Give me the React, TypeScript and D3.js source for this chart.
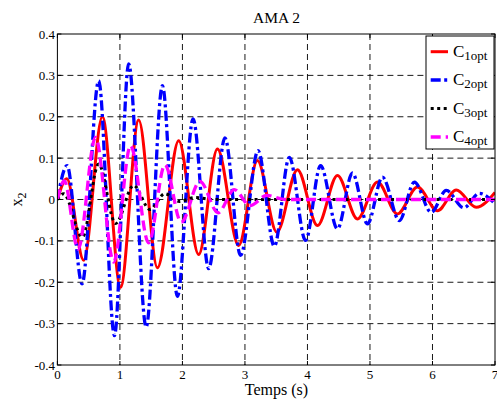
import React from "react";
import * as d3 from "d3";

// ---- data (extrema) ----
const T1 = [0, 0.15, 0.42, 0.72, 1.01, 1.30, 1.60, 1.94, 2.26, 2.56, 2.90, 3.20, 3.51, 3.84, 4.16, 4.48, 4.80, 5.12, 5.44, 5.76, 6.08, 6.38, 6.70, 7.0];
const V1 = [0, 0.05, -0.147, 0.20, -0.212, 0.192, -0.165, 0.142, -0.133, 0.122, -0.111, 0.094, -0.079, 0.072, -0.063, 0.058, -0.047, 0.042, -0.035, 0.030, -0.027, 0.023, -0.019, 0.017];

const T2 = [0, 0.155, 0.395, 0.66, 0.913, 1.14, 1.42, 1.68, 1.92, 2.17, 2.42, 2.68, 2.93, 3.21, 3.47, 3.71, 3.97, 4.21, 4.48, 4.72, 4.96, 5.20, 5.47, 5.71, 5.98, 6.22, 6.50, 6.75, 7.0];
const V2 = [0, 0.082, -0.204, 0.287, -0.329, 0.328, -0.308, 0.275, -0.234, 0.195, -0.167, 0.149, -0.135, 0.118, -0.113, 0.102, -0.099, 0.082, -0.071, 0.064, -0.059, 0.054, -0.051, 0.042, -0.031, 0.022, -0.02, 0.015, -0.01];

const T3 = [0, 0.1, 0.4, 0.66, 0.93, 1.22, 1.48, 1.72, 1.95, 2.2, 2.5, 7.0];
const V3 = [0, 0.014, -0.091, 0.086, -0.058, 0.034, -0.024, 0.014, -0.005, 0.005, 0, 0];

const T4 = [0, 0.11, 0.33, 0.61, 0.90, 1.17, 1.46, 1.72, 1.98, 2.28, 2.57, 2.83, 3.08, 3.35, 3.65, 7.0];
const V4 = [0, 0.045, -0.12, 0.15, -0.151, 0.13, -0.105, 0.084, -0.055, 0.044, -0.032, 0.024, -0.015, 0.01, 0, 0];

const XTICKS = [0, 1, 2, 3, 4, 5, 6, 7];
const YTICKS = [-0.4, -0.3, -0.2, -0.1, 0, 0.1, 0.2, 0.3, 0.4];
const SERIES_NAMES = ["1opt", "2opt", "3opt", "4opt"];

const W = 497;
const H = 403;
const L = 57.4;
const R = 495;
const TOP = 34;
const BOT = 365;
const FONT = "'Liberation Serif', 'Times New Roman', serif";

export default function App() {
  const x = d3.scaleLinear().domain([0, 7]).range([L, R]);
  const y = d3.scaleLinear().domain([-0.4, 0.4]).range([BOT, TOP]);
  const line = d3
    .line<[number, number]>()
    .x((d) => x(d[0]))
    .y((d) => y(d[1]))
    .curve(d3.curveMonotoneX);

  const mk = (T: number[], V: number[]) => T.map((t, i) => [t, V[i]] as [number, number]);
  const styles = [
    { color: "#ff0000", width: 3, dash: "none" },
    { color: "#0000ff", width: 3.3, dash: "10,3.5,3,3.5" },
    { color: "#000000", width: 3, dash: "3,3.5" },
    { color: "#ff00ff", width: 3.3, dash: "10,5" },
  ];
  const data = [mk(T1, V1), mk(T2, V2), mk(T3, V3), mk(T4, V4)];

  const fmt = (v: number) => (Math.abs(v) < 1e-9 ? "0" : String(Math.round(v * 10) / 10));

  const legX = 426;
  const legY = 36;
  const legW = 68;
  const legH = 113;
  const rowY = [51.7, 80, 108.5, 137];

  return (
    <svg width={W} height={H} style={{ position: "absolute", left: 0, top: 0, background: "#fff" }} fontFamily={FONT}>
      <defs>
        <clipPath id="plotclip">
          <rect x={L} y={TOP} width={R - L} height={BOT - TOP} />
        </clipPath>
      </defs>
      <rect x={0} y={0} width={W} height={H} fill="#fff" />
      {/* grid */}
      {XTICKS.slice(1, -1).map((t) => (
        <line key={"gx" + t} x1={x(t)} x2={x(t)} y1={TOP} y2={BOT} stroke="#000" strokeWidth={0.9} strokeDasharray="6,4" />
      ))}
      {YTICKS.slice(1, -1).map((t) => (
        <line key={"gy" + t} x1={L} x2={R} y1={y(t)} y2={y(t)} stroke="#000" strokeWidth={0.9} strokeDasharray="6,4" />
      ))}
      {/* series */}
      <g clipPath="url(#plotclip)">
        {data.map((d, i) => (
          <path
            key={i}
            d={line(d) || ""}
            fill="none"
            stroke={styles[i].color}
            strokeWidth={styles[i].width}
            strokeDasharray={styles[i].dash}
            strokeLinejoin="round"
          />
        ))}
      </g>
      {/* axes box */}
      <rect x={L} y={TOP} width={R - L} height={BOT - TOP} fill="none" stroke="#000" strokeWidth={1} />
      {XTICKS.map((t) => (
        <g key={"tx" + t}>
          <line x1={x(t)} x2={x(t)} y1={BOT} y2={BOT - 4} stroke="#000" />
          <line x1={x(t)} x2={x(t)} y1={TOP} y2={TOP + 4} stroke="#000" />
          <text x={x(t)} y={378.5} fontSize={13} textAnchor="middle">
            {fmt(t)}
          </text>
        </g>
      ))}
      {YTICKS.map((t) => (
        <g key={"ty" + t}>
          <line x1={L} x2={L + 4} y1={y(t)} y2={y(t)} stroke="#000" />
          <line x1={R} x2={R - 4} y1={y(t)} y2={y(t)} stroke="#000" />
          <text x={55} y={y(t) + 4.5} fontSize={13} textAnchor="end">
            {fmt(t)}
          </text>
        </g>
      ))}
      {/* title & labels */}
      <text x={276.5} y={23} fontSize={15.5} textAnchor="middle">
        AMA 2
      </text>
      <text x={276.5} y={395} fontSize={16} textAnchor="middle">
        Temps (s)
      </text>
      <text transform={`translate(22,${y(0)}) rotate(-90)`} fontSize={16} textAnchor="middle">
        x<tspan fontSize={12} dy={4}>2</tspan>
      </text>
      {/* legend */}
      <rect x={legX} y={legY} width={legW} height={legH} fill="#fff" stroke="#000" strokeWidth={1} />
      {SERIES_NAMES.map((n, i) => (
        <g key={n}>
          <line
            x1={430.7}
            x2={448}
            y1={rowY[i]}
            y2={rowY[i]}
            stroke={styles[i].color}
            strokeWidth={styles[i].width}
            strokeDasharray={styles[i].dash}
          />
          <text x={453} y={rowY[i] + 5} fontSize={17}>
            C<tspan fontSize={13} dy={3}>{n}</tspan>
          </text>
        </g>
      ))}
    </svg>
  );
}
